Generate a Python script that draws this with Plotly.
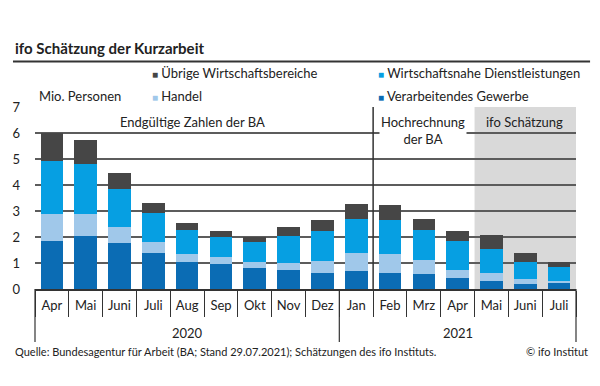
import plotly.graph_objects as go

months = ["Apr", "Mai", "Juni", "Juli", "Aug", "Sep", "Okt", "Nov", "Dez",
          "Jan", "Feb", "Mrz", "Apr", "Mai", "Juni", "Juli"]
years = ["2020"] * 9 + ["2021"] * 7

verarbeitendes = [1.86, 2.03, 1.78, 1.38, 1.04, 0.95, 0.82, 0.73, 0.63, 0.70, 0.63, 0.57, 0.41, 0.32, 0.20, 0.24]
handel = [1.02, 0.84, 0.59, 0.42, 0.31, 0.27, 0.21, 0.28, 0.46, 0.70, 0.72, 0.55, 0.33, 0.31, 0.17, 0.08]
dienstleistungen = [2.04, 1.94, 1.49, 1.13, 0.92, 0.79, 0.77, 1.04, 1.14, 1.29, 1.32, 1.16, 1.09, 0.92, 0.68, 0.54]
uebrige = [1.08, 0.91, 0.60, 0.39, 0.26, 0.21, 0.21, 0.33, 0.42, 0.59, 0.57, 0.41, 0.41, 0.53, 0.32, 0.18]

series = [
    ("Verarbeitendes Gewerbe", verarbeitendes, "#0b6cb4"),
    ("Handel", handel, "#a0c8ea"),
    ("Wirtschaftsnahe Dienstleistungen", dienstleistungen, "#069fe2"),
    ("Übrige Wirtschaftsbereiche", uebrige, "#464646"),
]

n = len(months)
idx = list(range(n))
first_hochrechnung = 10   # Feb 2021
first_schaetzung = 13     # Mai 2021

FONT = "Lato"
TXT = "#222222"
LINE = "#5c5c5c"
AX = "#333333"

fig = go.Figure()
for name, vals, col in series:
    fig.add_trace(go.Bar(x=idx, y=vals, name=name,
                         marker=dict(color=col, line=dict(width=0)),
                         showlegend=False))

# shaded estimate area
fig.add_shape(type="rect", xref="paper", yref="y",
              x0=first_schaetzung / n, x1=1, y0=0, y1=7,
              fillcolor="#d9d9d9", line=dict(width=0), layer="below")
# separator final / projection
fig.add_shape(type="line", xref="paper", yref="y",
              x0=first_hochrechnung / n, x1=first_hochrechnung / n, y0=0, y1=7,
              line=dict(color=AX, width=1.5), layer="above")

# year dividers and labels
year_names = sorted(set(years))
bounds = [0]
for i in range(1, n):
    if years[i] != years[i - 1]:
        bounds.append(i)
bounds.append(n)
for b in bounds:
    fig.add_shape(type="line", xref="paper", yref="paper", x0=b / n, x1=b / n, y0=0, y1=-0.291,
                  line=dict(color=AX, width=1.2))
for yname in year_names:
    pos = [i for i in idx if years[i] == yname]
    fig.add_annotation(text=yname, xref="x", yref="paper", x=sum(pos) / len(pos), y=-0.242,
                       showarrow=False, xanchor="center", yanchor="middle",
                       font=dict(family=FONT, size=13, color=TXT))

# title + rule
fig.add_annotation(text="<b>ifo Schätzung der Kurzarbeit</b>", xref="paper", yref="paper",
                   x=-0.0407, y=1.324, xanchor="left", yanchor="middle", showarrow=False,
                   font=dict(family=FONT, size=15, color=TXT))
fig.add_shape(type="line", xref="paper", yref="paper", x0=-0.0407, x1=1.026, y0=1.25, y1=1.25,
              line=dict(color=AX, width=2))

# legend (as text)
leg_pos = {
    "Übrige Wirtschaftsbereiche": (0.212, 1.188),
    "Wirtschaftsnahe Dienstleistungen": (0.630, 1.188),
    "Handel": (0.212, 1.062),
    "Verarbeitendes Gewerbe": (0.630, 1.062),
}
for name, vals, col in series:
    lx, ly = leg_pos[name]
    fig.add_annotation(text=f"<span style='color:{col};font-size:10px'>■</span> {name}",
                       xref="paper", yref="paper", x=lx, y=ly, xanchor="left", yanchor="middle",
                       showarrow=False, font=dict(family=FONT, size=13, color=TXT))

fig.add_annotation(text="Mio. Personen", xref="paper", yref="paper", x=0.004, y=1.06,
                   xanchor="left", yanchor="middle", showarrow=False,
                   font=dict(family=FONT, size=13, color=TXT))

# region labels
fig.add_annotation(text="Endgültige Zahlen der BA", xref="paper", yref="y", x=0.292, y=6.43,
                   xanchor="center", showarrow=False, font=dict(family=FONT, size=13, color=TXT))
fig.add_annotation(text="Hochrechnung<br>der BA", xref="paper", yref="y", x=0.717, y=6.1,
                   xanchor="center", showarrow=False, bgcolor="white", borderpad=1,
                   font=dict(family=FONT, size=13, color=TXT))
fig.add_annotation(text="ifo Schätzung", xref="paper", yref="y", x=0.904, y=6.43,
                   xanchor="center", showarrow=False, font=dict(family=FONT, size=13, color=TXT))

# footer
fig.add_annotation(text="Quelle: Bundesagentur für Arbeit (BA; Stand 29.07.2021); Schätzungen des ifo Instituts.",
                   xref="paper", yref="paper", x=-0.0407, y=-0.346, xanchor="left", yanchor="middle",
                   showarrow=False, font=dict(family=FONT, size=11, color=TXT))
fig.add_annotation(text="© ifo Institut", xref="paper", yref="paper", x=1.026, y=-0.346,
                   xanchor="right", yanchor="middle", showarrow=False,
                   font=dict(family=FONT, size=11, color=TXT))

fig.update_layout(
    width=600, height=386,
    margin=dict(l=35, r=24, t=107, b=97),
    barmode="stack", bargap=0.33,
    plot_bgcolor="white", paper_bgcolor="white",
    font=dict(family=FONT, size=13, color=TXT),
    showlegend=False,
)
fig.update_xaxes(range=[-0.5, n - 0.5], automargin=False,
                 showline=True, linecolor=AX, linewidth=1.5,
                 tickmode="array", tickvals=idx, ticktext=months, ticks="",
                 ticklabelstandoff=4,
                 minor=dict(tickmode="array", tickvals=[i - 0.5 for i in range(n + 1)],
                            ticks="outside", ticklen=26, tickcolor=AX, tickwidth=1, showgrid=False),
                 showgrid=False, zeroline=False,
                 tickfont=dict(family=FONT, size=13, color=TXT))
fig.update_yaxes(range=[0, 7], dtick=1, automargin=False,
                 showgrid=True, gridcolor=LINE, gridwidth=1.5,
                 zeroline=False, showline=False, ticks="", ticklabelstandoff=14,
                 tickfont=dict(family=FONT, size=13, color=TXT))

fig.write_html("out.html", config={"displayModeBar": False},
               post_script="document.body.style.margin='0';")
